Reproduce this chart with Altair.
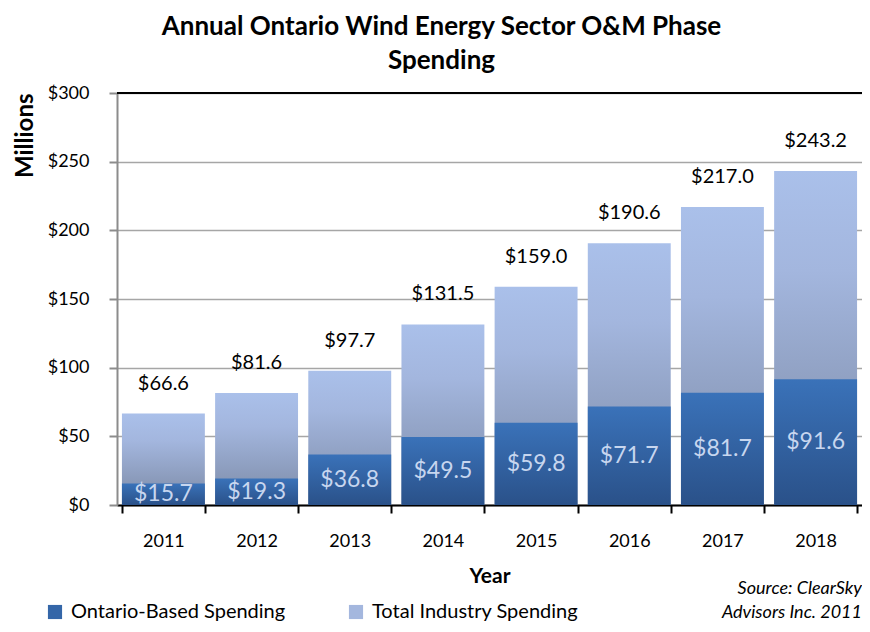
import altair as alt
import pandas as pd

years = ["2011", "2012", "2013", "2014", "2015", "2016", "2017", "2018"]
total_spending = [66.6, 81.6, 97.7, 131.5, 159.0, 190.6, 217.0, 243.2]
ontario_spending = [15.7, 19.3, 36.8, 49.5, 59.8, 71.7, 81.7, 91.6]
series_names = ["Ontario-Based Spending", "Total Industry Spending"]
title_lines = ["Annual Ontario Wind Energy Sector O&M Phase", "Spending"]
source_text = "Source: ClearSky\nAdvisors Inc. 2011"

df = pd.DataFrame({"year": years, "total": total_spending, "ontario": ontario_spending})
df["total_label"] = ["$%.1f" % v for v in total_spending]
df["ontario_label"] = ["$%.1f" % v for v in ontario_spending]
df["ontario_mid"] = [v / 2 for v in ontario_spending]

FONT = "Lato"

total_grad = alt.Gradient(
    gradient="linear", x1=0, x2=0, y1=0, y2=1,
    stops=[alt.GradientStop(color="#AAC0EA", offset=0),
           alt.GradientStop(color="#A3B6DE", offset=0.3),
           alt.GradientStop(color="#7B89A4", offset=1)])
ont_grad = alt.Gradient(
    gradient="linear", x1=0, x2=0, y1=0, y2=1,
    stops=[alt.GradientStop(color="#3A72B9", offset=0),
           alt.GradientStop(color="#2A5189", offset=1)])

xenc = alt.X("year:N", sort=years,
             scale=alt.Scale(paddingInner=0.11, paddingOuter=0.053),
             axis=alt.Axis(title="Year", labelAngle=0, tickBand="extent",
                           domainColor="black", domainWidth=2, tickColor="black",
                           tickWidth=2, tickSize=8, labelFontSize=18, labelFont=FONT,
                           labelColor="black", labelPadding=19, titleFontSize=21,
                           titleFont=FONT, titleFontWeight="bold", titleColor="black",
                           titlePadding=15, grid=False))
yscale = alt.Scale(domain=[0, 300], nice=False)

base = alt.Chart(df)

total_bars = base.mark_bar(color=total_grad).encode(
    x=xenc,
    y=alt.Y("total:Q", scale=yscale,
            axis=alt.Axis(values=[0, 50, 100, 150, 200, 250, 300],
                          labelExpr="'$' + datum.value", title="Millions",
                          domainColor="#8C8C8C", domainWidth=2, tickColor="#8C8C8C",
                          tickWidth=2, tickSize=8, labelPadding=20, labelFontSize=18,
                          labelFont=FONT, labelColor="black", gridColor="#A6A6A6",
                          gridWidth=1.5, titleFontSize=24, titleFont=FONT,
                          titleFontWeight="bold", titleColor="black", titleAngle=-90,
                          titleAlign="right", titleBaseline="middle", titleX=-92,
                          titleY=0)),
)
ont_bars = base.mark_bar(color=ont_grad).encode(x=xenc, y=alt.Y("ontario:Q", scale=yscale))
total_text = base.mark_text(dy=-30, fontSize=20, font=FONT, color="black").encode(
    x=xenc, y=alt.Y("total:Q", scale=yscale), text="total_label:N")
ont_text = base.mark_text(fontSize=23, font=FONT, color="#C7D6EF").encode(
    x=xenc, y=alt.Y("ontario_mid:Q", scale=yscale), text="ontario_label:N")
top_rule = alt.Chart(pd.DataFrame({"v": [300]})).mark_rule(color="black", strokeWidth=2).encode(
    y=alt.Y("v:Q", scale=yscale))

legend_df = pd.DataFrame({"series": series_names, "val": [0, 0]})
legend_layer = alt.Chart(legend_df).mark_square(opacity=0).encode(
    y=alt.Y("val:Q", scale=yscale),
    color=alt.Color("series:N", sort=series_names,
                    scale=alt.Scale(domain=series_names, range=["#3466A8", "#A4B7DE"]),
                    legend=alt.Legend(title=None, orient="none", legendX=-72, legendY=509,
                                      direction="horizontal", symbolType="square",
                                      symbolSize=200, symbolOpacity=1, symbolStrokeWidth=0,
                                      labelFontSize=20, labelFont=FONT, labelColor="black",
                                      columnPadding=60, labelOffset=6, labelLimit=400)))

source = alt.Chart(pd.DataFrame({"t": [source_text]})).mark_text(
    align="right", baseline="middle", fontSize=18, font=FONT, fontStyle="italic",
    color="black", lineBreak="\n", lineHeight=24).encode(
    x=alt.value(745), y=alt.value(496), text="t:N")

chart = alt.layer(total_bars, ont_bars, total_text, ont_text, top_rule, legend_layer, source).properties(
    width=745, height=412,
    title=alt.TitleParams(text=title_lines, fontSize=26, font=FONT, fontWeight="bold",
                          color="black", anchor="middle", dx=-48, offset=10, lineHeight=34),
    padding={"left": 109, "top": 85, "right": 0, "bottom": 119},
    autosize=alt.AutoSizeParams(type="none"),
).configure_view(stroke=None)

chart.save("out.html", embed_options={"renderer": "svg", "actions": False})
